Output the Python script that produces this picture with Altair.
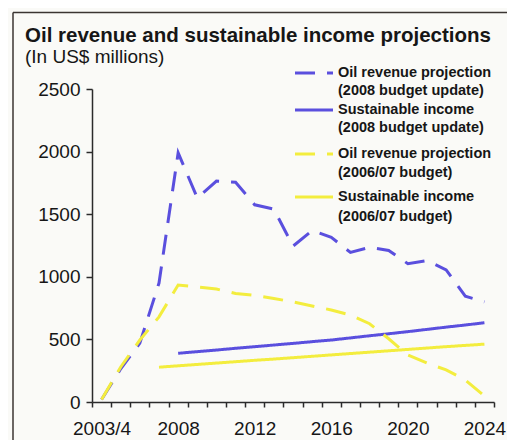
import altair as alt
import pandas as pd

# ---------------- data ----------------
positions = list(range(21))                      # fiscal-year categories 2003/4 ... 2024
tick_label_index = [0, 4, 8, 12, 16, 20]
tick_label_text = ["2003/4", "2008", "2012", "2016", "2020", "2024"]
y_ticks = [0, 500, 1000, 1500, 2000, 2500]

series_key = ["oil08", "sust08", "oil0607", "sust0607"]
legend_line1 = ["Oil revenue projection", "Sustainable income",
                "Oil revenue projection", "Sustainable income"]
legend_line2 = ["(2008 budget update)", "(2008 budget update)",
                "(2006/07 budget)", "(2006/07 budget)"]

oil_2008 = [20, 265, 470, 950, 1990, 1630, 1765, 1755, 1575, 1540, 1245,
            1370, 1315, 1195, 1235, 1210, 1105, 1130, 1055, 845, 800]
sust_2008 = [None] * 4 + [389, 402, 415, 429, 442, 455, 468, 482, 495,
                          512, 529, 545, 562, 580, 598, 615, 633]
oil_0607 = [20, 280, 495, 680, 934, 918, 902, 867, 851, 827, 799,
            767, 735, 695, 625, 505, 375, 311, 256, 176, 48]
sust_0607 = [None] * 3 + [278, 289, 300, 311, 322, 333, 343, 354, 365,
                          376, 387, 398, 409, 420, 431, 442, 452, 462]

series_values = [oil_2008, sust_2008, oil_0607, sust_0607]

# ---------------- styles ----------------
BLUE = "#5a4fde"
YELLOW = "#f3ed3e"
series_color = [BLUE, BLUE, YELLOW, YELLOW]
series_dash = [[20, 12], [1, 0], [20, 12], [1, 0]]
FONT = "Liberation Sans"
INK = "#161616"
AXIS = "#2b2b2b"
FRAME = "#3b3532"

rows = []
for key, vals in zip(series_key, series_values):
    for p, v in zip(positions, vals):
        if v is not None:
            rows.append({"series": key, "idx": p, "value": v})
df = pd.DataFrame(rows)

label_expr = "".join(
    f"datum.value === {i - 0.5} ? '{t}' : " for i, t in zip(tick_label_index, tick_label_text)
) + "''"

W, H = 402, 313
band = W / 21

lines = alt.Chart(df).mark_line(strokeWidth=3, strokeCap="butt").encode(
    x=alt.X(
        "idx:Q",
        scale=alt.Scale(domain=[-0.5, 20.5], nice=False, zero=False),
        axis=alt.Axis(
            title=None, values=[i - 0.5 for i in range(22)], labelExpr=label_expr,
            labelOffset=band / 2, labelAlign="center", labelOverlap=False,
            labelFlush=False, labelBound=False, grid=False,
            tickSize=5, labelPadding=12, labelFont=FONT, labelFontSize=19,
            labelColor=INK, domainColor=AXIS, tickColor=AXIS,
            domainWidth=1.5, tickWidth=1.5,
        ),
    ),
    y=alt.Y(
        "value:Q",
        scale=alt.Scale(domain=[0, 2500], nice=False),
        axis=alt.Axis(
            title=None, values=y_ticks, format="d", grid=False, tickSize=6, labelPadding=6,
            labelFont=FONT, labelFontSize=19, labelColor=INK, domainColor=AXIS,
            tickColor=AXIS, domainWidth=1.5, tickWidth=1.5,
        ),
    ),
    color=alt.Color("series:N", scale=alt.Scale(domain=series_key, range=series_color), legend=None),
    strokeDash=alt.StrokeDash("series:N", scale=alt.Scale(domain=series_key, range=series_dash), legend=None),
    order="idx:Q",
)

one = pd.DataFrame({"k": [0]})
frame_top = alt.Chart(one).mark_rule(color=FRAME, strokeWidth=1.5).encode(
    x=alt.value(-79), x2=alt.value(520), y=alt.value(-76.5))
frame_left = alt.Chart(one).mark_rule(color=FRAME, strokeWidth=1.5).encode(
    x=alt.value(-79), y=alt.value(-76.5), y2=alt.value(420))

title = alt.Chart(one).mark_text(
    align="left", baseline="alphabetic", font=FONT, fontSize=20.5,
    fontWeight="bold", color=INK).encode(
    x=alt.value(-67), y=alt.value(-46.7),
    text=alt.value("Oil revenue and sustainable income projections"))
subtitle = alt.Chart(one).mark_text(
    align="left", baseline="alphabetic", font=FONT, fontSize=19, color=INK).encode(
    x=alt.value(-67), y=alt.value(-25.7), text=alt.value("(In US$ millions)"))

# manual legend
legend_rows_y = [(-16, 2), (21, 39), (65, 84), (108, 128)]
legend_layers = []
for i in range(4):
    y1, y2 = legend_rows_y[i]
    legend_layers.append(
        alt.Chart(one).mark_rule(strokeWidth=3, strokeCap="butt",
                                 strokeDash=series_dash[i], color=series_color[i]).encode(
            x=alt.value(203), x2=alt.value(241), y=alt.value(y1)))
    for txt, yy in ((legend_line1[i], y1), (legend_line2[i], y2)):
        legend_layers.append(
            alt.Chart(one).mark_text(align="left", baseline="middle", font=FONT,
                                     fontSize=14.5, fontWeight="bold", color=INK).encode(
                x=alt.value(246), y=alt.value(yy), text=alt.value(txt)))

chart = alt.layer(frame_top, frame_left, title, subtitle, lines, *legend_layers).properties(
    width=W, height=H,
    autosize=alt.AutoSizeParams(type="none"),
    padding={"left": 84, "top": 81, "right": 13, "bottom": 38},
    background="#fafaf7",
).configure_view(stroke=None)

chart.save("out.html", embed_options={"renderer": "svg", "actions": False})
